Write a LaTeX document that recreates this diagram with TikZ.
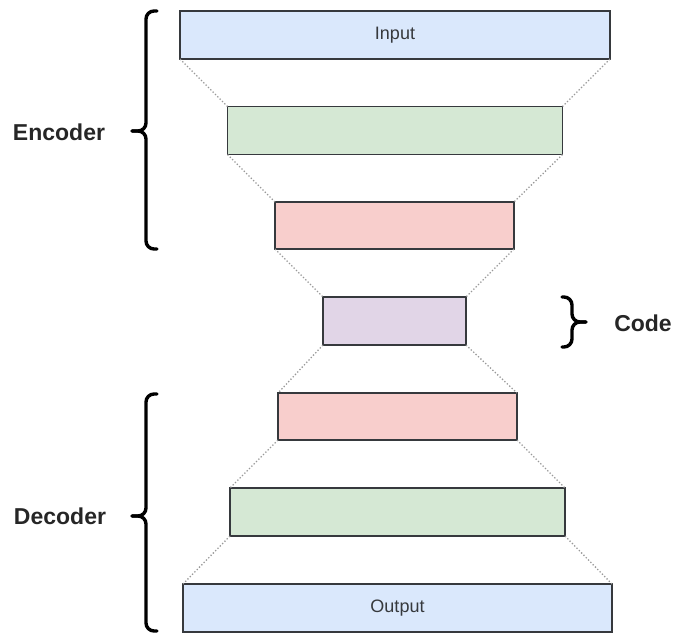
\documentclass[tikz,border=0pt]{standalone}
\usepackage{fontspec}
\setmainfont{Liberation Sans}
\usepackage{xcolor}

\definecolor{inBlue}{HTML}{DAE8FC}
\definecolor{encGreen}{HTML}{D5E8D4}
\definecolor{encRed}{HTML}{F8CECC}
\definecolor{codePurple}{HTML}{E1D5E7}
\definecolor{boxLine}{HTML}{36393D}

\begin{document}
\begin{tikzpicture}
[
x=1pt, y=-1pt,
layer/.style={
	draw=boxLine,
	rectangle,
	line width=1.2pt,
	inner sep=0pt,
	outer sep=0pt,
	text=boxLine,
	font=\fontsize{18}{20}\selectfont},
funnel/.style={
	draw=gray!80,
	dotted,
	line width=1.3pt},
grpBrace/.style={
	draw=black,
	line width=3.4pt,
	rounded corners=8pt,
	line cap=round},
grpLabel/.style={
	font=\fontsize{23}{27}\selectfont\bfseries,
	text=black!85}
]
\useasboundingbox (0,0) rectangle (675,635);

%layers, widest at the ends
\node[layer, fill=inBlue, minimum width=430pt, minimum height=48pt] (inp) at (395,35) {Input};
\node[layer, fill=encGreen, minimum width=335pt, minimum height=48pt] (enc1) at (395,130.5) {};
\node[layer, fill=encRed, minimum width=239pt, minimum height=47pt] (enc2) at (394.5,225.5) {};
\node[layer, fill=codePurple, minimum width=143pt, minimum height=48pt] (code) at (394.5,321) {};
\node[layer, fill=encRed, minimum width=239pt, minimum height=47pt] (dec1) at (397.5,416.5) {};
\node[layer, fill=encGreen, minimum width=335pt, minimum height=48pt] (dec2) at (397.5,512) {};
\node[layer, fill=inBlue, minimum width=429pt, minimum height=48pt] (out) at (397.5,608) {Output};

%dotted funnel between layers
\foreach \a/\b in {inp/enc1, enc1/enc2, enc2/code, code/dec1, dec1/dec2, dec2/out} {
	\draw [funnel] (\a.south west) -- (\b.north west);
	\draw [funnel] (\a.south east) -- (\b.north east);
}

%braces: each half goes end -> spine -> tip
% x of end, spine, tip / y of top, tip, bottom
\foreach \e/\s/\t/\ya/\ym/\yb in {157/146/132/11/131/249, 157/146/132/394/516/631, 562/572/586/297/322/347} {
	\draw [grpBrace] (\e,\ya) -- (\s,\ya) -- (\s,\ym) -- (\t,\ym);
	\draw [grpBrace] (\e,\yb) -- (\s,\yb) -- (\s,\ym) -- (\t,\ym);
}

\node[grpLabel] (encLbl) at (59,132) {Encoder};
\node[grpLabel] (codeLbl) at (643,323) {Code};
\node[grpLabel] (decLbl) at (60,516) {Decoder};

\end{tikzpicture}
\end{document}
